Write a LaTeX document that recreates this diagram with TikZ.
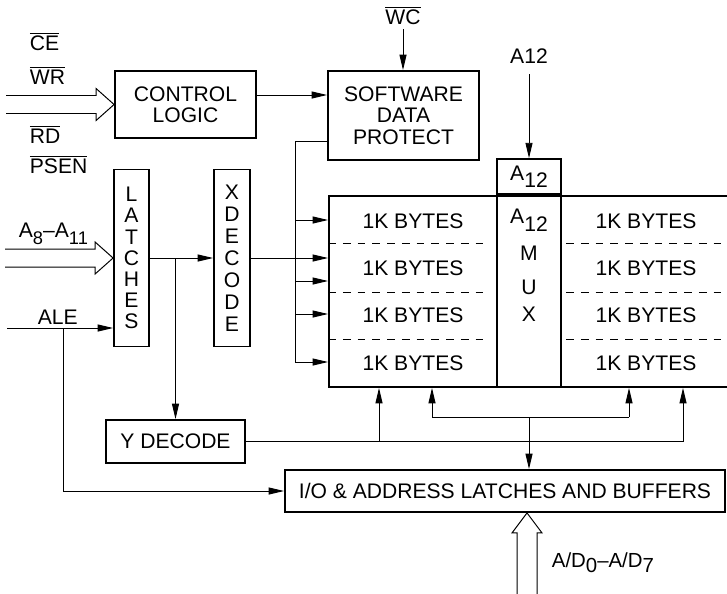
\documentclass[tikz,border=0pt]{standalone}
\usepackage{fontspec}
\setmainfont{Liberation Sans}
\usetikzlibrary{arrows.meta}

\newcommand{\dn}[1]{\raisebox{-5.5pt}{#1}}
\newcommand{\nbar}[1]{$\overline{\mbox{#1}}$}

\begin{document}
\begin{tikzpicture}[x=0.025cm, y=-0.025cm,
	every node/.style={font=\fontsize{15}{15}\selectfont, inner sep=0pt},
	blk/.style={draw, line width=1.3pt, align=center},
	sig/.style={anchor=base west, outer sep=3.5pt},
	wire/.style={line width=0.7pt},
	arr/.style={wire, -{Triangle[length=11pt,width=5pt]}},
	div/.style={line width=0.6pt, dash pattern=on 5.5pt off 5pt}]

	\useasboundingbox (0,0) rectangle (727,593);

	% blocks
	\node[blk, minimum width=3.525cm, minimum height=1.675cm] (ctrl) at (185.5,104.5) {CONTROL\\LOGIC};
	\node[blk, minimum width=3.775cm, minimum height=2.225cm, font=\fontsize{15}{15.3}\selectfont] (sdp) at (403.5,115.5) {SOFTWARE\\DATA\\PROTECT};
	\node[blk, minimum width=0.875cm, minimum height=4.425cm] (latch) at (131.5,258) {L\\A\\T\\C\\H\\E\\S};
	\node[blk, minimum width=0.9cm, minimum height=4.425cm, font=\fontsize{15}{15.6}\selectfont] (xdec) at (232,258) {X\\D\\E\\C\\O\\D\\E};
	\node[blk, minimum width=10cm, minimum height=4.775cm] (mem) at (529,291.5) {};
	\node[blk, minimum width=1.6cm, minimum height=4.775cm] (mux) at (529,291.5) {};
	\node[blk, minimum width=1.6cm, minimum height=0.875cm, anchor=south] (a12box) at (mux.north) {A\dn{12}};
	\node[blk, minimum width=3.475cm, minimum height=1.075cm] (ydec) at (175.5,441.5) {Y DECODE};
	\node[blk, minimum width=11cm, minimum height=1.05cm] (io) at (505,491) {I/O \& ADDRESS LATCHES AND BUFFERS};

	% memory array
	\foreach \r/\y in {1/221,2/268,3/315,4/363} {
		\node (lcell\r) at (413,\y) {1K BYTES};
		\node (rcell\r) at (646,\y) {1K BYTES};
	}
	\foreach \y in {243,292,339} {
		\draw[div] (mem.west |- 0,\y) -- (488,\y);
		\draw[div] (566,\y) -- (727,\y);
	}
	\node (muxa) at (529,220.5) {A\dn{12}};
	\foreach \t/\y in {M/253,U/287,X/314}
		\node (mux\t) at (529,\y) {\t};

	% signal names
	\node[sig] (ce) at (25,50) {\nbar{CE}};
	\node[sig] (wr) at (25,84) {\nbar{WR}};
	\node[sig] (rd) at (25,143) {\nbar{RD}};
	\node[sig] (psen) at (25,173) {\nbar{PSEN}};
	\node[sig] (addr) at (14,237) {A\dn{\fontsize{13}{13}\selectfont 8}--A\dn{\fontsize{13}{13}\selectfont 11}};
	\node[sig] (ale) at (33,324) {ALE};
	\node[sig, anchor=base] (wc) at (403,24) {\nbar{WC}};
	\node[sig, anchor=base, outer sep=8pt] (a12in) at (529,63) {A12};
	\node[sig, font=\fontsize{14.5}{14.5}\selectfont] (addata) at (547,567) {A/D\raisebox{-4pt}{0}--A/D\raisebox{-4pt}{7}};

	\coordinate (alein) at (7,328);
	\coordinate (aletap) at (63,328);
	\coordinate (sdpbus) at (295,141);
	\coordinate (dbus) at (529,417);
	\coordinate (adbus) at (527,593);

	% hollow bus arrows
	\foreach \t in {ctrl,latch}
		\draw[wire] (\t.west) -- ++(-18,-16) -- ++(0,7) -- ++(-90,0)
			(\t.west) -- ++(-18,16) -- ++(0,-7) -- ++(-90,0);
	\draw[wire] (adbus |- io.south) -- ++(-15,20) -- ++(5,0) -- ++(0,61)
		(adbus |- io.south) -- ++(15,20) -- ++(-5,0) -- ++(0,61);

	% connectors
	\draw[arr] (ctrl.east |- 0,95) -- (sdp.west |- 0,95);
	\draw[arr] (wc.south) -- (wc.south |- sdp.north);
	\draw[arr] (a12in.south) -- (a12box.north);
	\draw[wire] (sdp.west |- sdpbus) -- (sdpbus) -- (sdpbus |- 0,362);
	\foreach \y in {220,281,314,362}
		\draw[arr] (sdpbus |- 0,\y) -- (mem.west |- 0,\y);
	\draw[arr] (latch.east) -- (xdec.west);
	\draw[arr] (xdec.east) -- (xdec.east -| mem.west);
	\draw[arr] (ydec.north |- latch.east) -- (ydec.north);
	\draw[arr] (alein) -- (alein -| latch.west);
	\draw[arr] (aletap) |- (io.west);
	\draw[wire] (ydec.east) -- (683,0 |- ydec.east);
	\foreach \x in {379,683}
		\draw[arr] (\x,0 |- ydec.east) -- (\x,0 |- mem.south);
	\draw[wire] (432,0 |- dbus) -- (629,0 |- dbus);
	\foreach \x in {432,629}
		\draw[arr] (\x,0 |- dbus) -- (\x,0 |- mem.south);
	\draw[arr] (dbus) -- (dbus |- io.north);

\end{tikzpicture}
\end{document}
